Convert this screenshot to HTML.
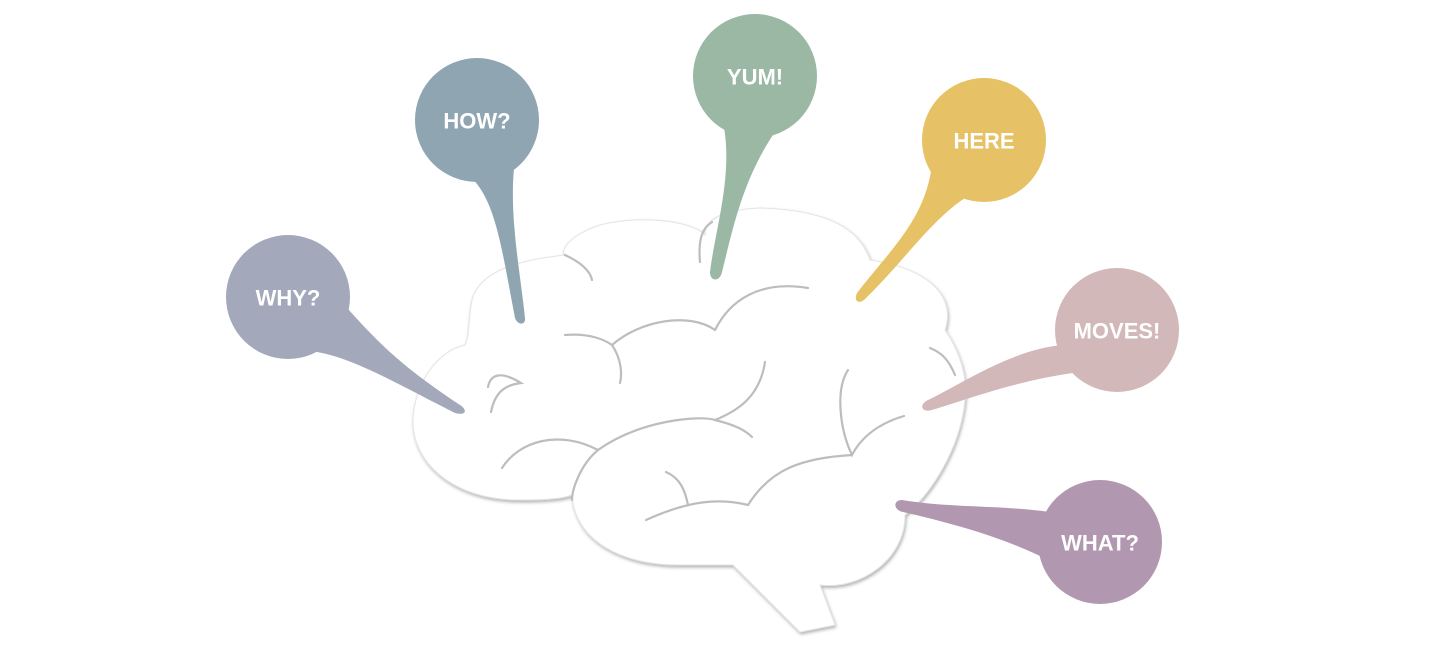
<!DOCTYPE html>
<html><head><meta charset="utf-8"><style>
html,body{margin:0;padding:0;background:#fff;width:1440px;height:651px;overflow:hidden}
svg{display:block}
text{font-family:"Liberation Sans",sans-serif;font-weight:bold;font-size:22px;fill:#fff;text-anchor:middle;dominant-baseline:central}
</style></head><body>
<svg width="1440" height="651" viewBox="0 0 1440 651">
<defs><filter id="sh" x="-10%" y="-10%" width="120%" height="120%"><feDropShadow dx="1" dy="2" stdDeviation="1.5" flood-color="#000" flood-opacity="0.3"/></filter></defs>
<g fill="#fff" stroke="#e4e4e4" stroke-width="1" filter="url(#sh)">
<path d="M733,565 L800,632 L835,625 L820,585 C860,590 905,560 905,515 C930,495 960,450 965,400 C968,370 955,345 945,330 C955,300 935,270 870,260 C860,230 830,210 760,208 C720,210 705,220 705,235 C690,220 640,215 600,225 C570,235 560,250 565,255 C520,260 480,270 472,300 C468,320 470,335 465,345 C440,350 415,380 413,420 C412,460 450,500 520,500 C550,500 565,498 572,495 C575,540 620,565 680,565 C700,565 720,565 733,565 Z"/>
</g>
<g fill="none" stroke="#bdbdbd" stroke-width="2.2" stroke-linecap="round">
<path d="M565,255 C580,262 590,270 592,280"/>
<path d="M700,262 C698,240 702,228 712,222"/>
<path d="M565,335 C590,333 605,340 612,345 C640,320 690,312 715,330 C730,300 760,280 808,288"/>
<path d="M612,345 C622,360 622,375 620,383"/>
<path d="M488,387 C490,375 500,370 521,383 C505,385 495,392 491,412"/>
<path d="M502,468 C520,440 560,430 598,450 C640,420 700,415 715,420 C740,410 760,395 765,362"/>
<path d="M715,420 C735,425 745,430 752,437"/>
<path d="M598,450 C580,465 572,490 572,500"/>
<path d="M848,370 C835,390 840,430 852,455 C865,430 890,420 904,416"/>
<path d="M852,455 C800,458 770,470 748,505 C720,498 690,500 646,520"/>
<path d="M666,472 C680,478 685,490 688,505"/>
<path d="M930,348 C940,352 948,358 955,375"/>
</g>
<g>
<path d="M295,350 C340,350 380,375 455,413 C466,416 468,410 460,405 C400,365 380,345 340,300 Z" fill="#a3a9ba"/>
<circle cx="288" cy="297" r="62" fill="#a3a9ba"/>
<text x="288" y="298">WHY?</text>
<path d="M465,172 C495,195 500,240 515,318 C518,326 526,325 525,318 C520,270 508,210 515,160 Z" fill="#8fa6b2"/>
<circle cx="477" cy="120" r="62" fill="#8fa6b2"/>
<text x="477" y="121">HOW?</text>
<path d="M722,118 C735,170 715,230 710,272 C710,282 720,282 722,272 C735,220 745,170 785,118 Z" fill="#9bb8a4"/>
<circle cx="755" cy="76" r="62" fill="#9bb8a4"/>
<text x="755" y="77">YUM!</text>
<path d="M932,165 C925,220 890,250 857,293 C853,302 860,305 866,298 C905,260 935,215 970,195 Z" fill="#e7c165"/>
<circle cx="984" cy="140" r="62" fill="#e7c165"/>
<text x="984" y="141">HERE</text>
<path d="M1062,345 C1010,350 960,385 928,400 C918,405 922,413 932,410 C980,395 1020,380 1080,372 Z" fill="#d2b8b8"/>
<circle cx="1117" cy="330" r="62" fill="#d2b8b8"/>
<text x="1117" y="331">MOVES!</text>
<path d="M1050,512 C1000,505 950,508 902,500 C893,500 893,510 903,512 C960,525 1010,540 1052,562 Z" fill="#b197b0"/>
<circle cx="1100" cy="542" r="62" fill="#b197b0"/>
<text x="1100" y="543">WHAT?</text>
</g>
</svg>
</body></html>
